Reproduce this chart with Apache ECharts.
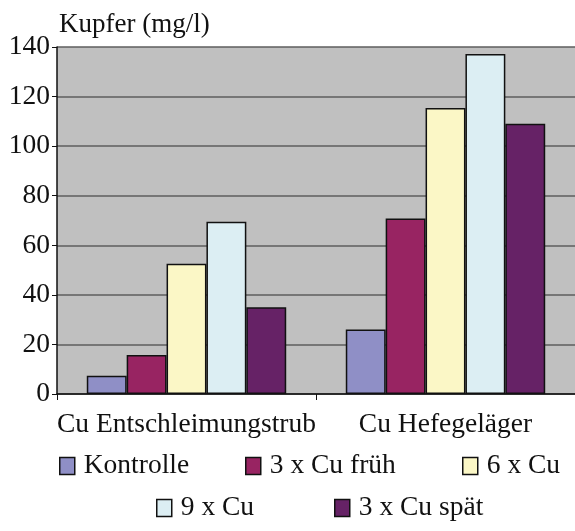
<!DOCTYPE html>
<html>
<head>
<meta charset="utf-8">
<script src="https://cdn.jsdelivr.net/npm/echarts@6/dist/echarts.min.js"></script>
<style>
  html, body { margin: 0; padding: 0; background: #fff; }
  #chart { width: 575px; height: 531px; }
</style>
</head>
<body>
<div id="chart"></div>
<script>
// Kategorien und Messwerte (Kupfer, mg/l)
const categories = ['Cu Entschleimungstrub', 'Cu Hefegeläger'];
const seriesNames = ['Kontrolle', '3 x Cu früh', '6 x Cu', '9 x Cu', '3 x Cu spät'];
const kontrolle = [7.4, 26];
const cuFrueh = [15.7, 70.8];
const cu6 = [52.6, 115.4];
const cu9 = [69.5, 137.2];
const cuSpaet = [35, 109];
const yTicks = [0, 20, 40, 60, 80, 100, 120, 140];

const colors = ['#8F8FC6', '#982462', '#FBF7C6', '#DCEEF3', '#662266'];
const values = [kontrolle, cuFrueh, cu6, cu9, cuSpaet];
const font = 'Liberation Serif';
const fs = 27.5;

// Legende: einzeln positioniert wie im Original
const legendPos = [
  { left: 59, top: 452 },
  { left: 245, top: 452 },
  { left: 462, top: 452 },
  { left: 156, top: 494 },
  { left: 334, top: 494 }
];

var myChart = echarts.init(document.getElementById('chart'));

const option = {
  animation: false,
  textStyle: { fontFamily: font },
  title: {
    text: 'Kupfer (mg/l)',
    left: 54,
    top: 6,
    textStyle: { fontFamily: font, fontSize: 27, fontWeight: 'normal', color: '#111' }
  },
  legend: seriesNames.map((n, i) => ({
    data: [n],
    left: legendPos[i].left,
    top: legendPos[i].top,
    padding: 0,
    icon: 'rect',
    itemWidth: 15,
    itemHeight: 17,
    itemStyle: { borderColor: '#111', borderWidth: 1.5 },
    textStyle: { fontFamily: font, fontSize: fs, color: '#111', padding: [0, 0, 0, 4] },
    selectedMode: false
  })),
  grid: {
    left: 57,
    right: -8,
    top: 47,
    bottom: 137,
    show: true,
    backgroundColor: '#C0C0C0',
    borderWidth: 0
  },
  xAxis: {
    type: 'category',
    data: categories,
    axisLine: { lineStyle: { color: '#111', width: 1.5 } },
    axisTick: { show: true, length: 6, lineStyle: { color: '#111' } },
    axisLabel: { fontFamily: font, fontSize: fs, color: '#111', margin: 17, interval: 0, hideOverlap: false }
  },
  yAxis: {
    type: 'value',
    min: 0,
    max: 140,
    interval: 20,
    axisLine: { show: true, lineStyle: { color: '#111', width: 1.5 } },
    axisTick: { show: true, length: 5, lineStyle: { color: '#111' } },
    axisLabel: {
      fontFamily: font, fontSize: fs, color: '#111', margin: 7,
      formatter: v => (yTicks.includes(v) ? String(v) : '')
    },
    splitLine: { lineStyle: { color: '#5E5E5E', width: 1.5 } }
  },
  series: seriesNames.map((n, i) => ({
    name: n,
    type: 'bar',
    data: values[i],
    barGap: '0%',
    barCategoryGap: '23%',
    itemStyle: { color: colors[i], borderColor: '#111', borderWidth: 1.5 }
  }))
};

option && myChart.setOption(option);
</script>
</body>
</html>
